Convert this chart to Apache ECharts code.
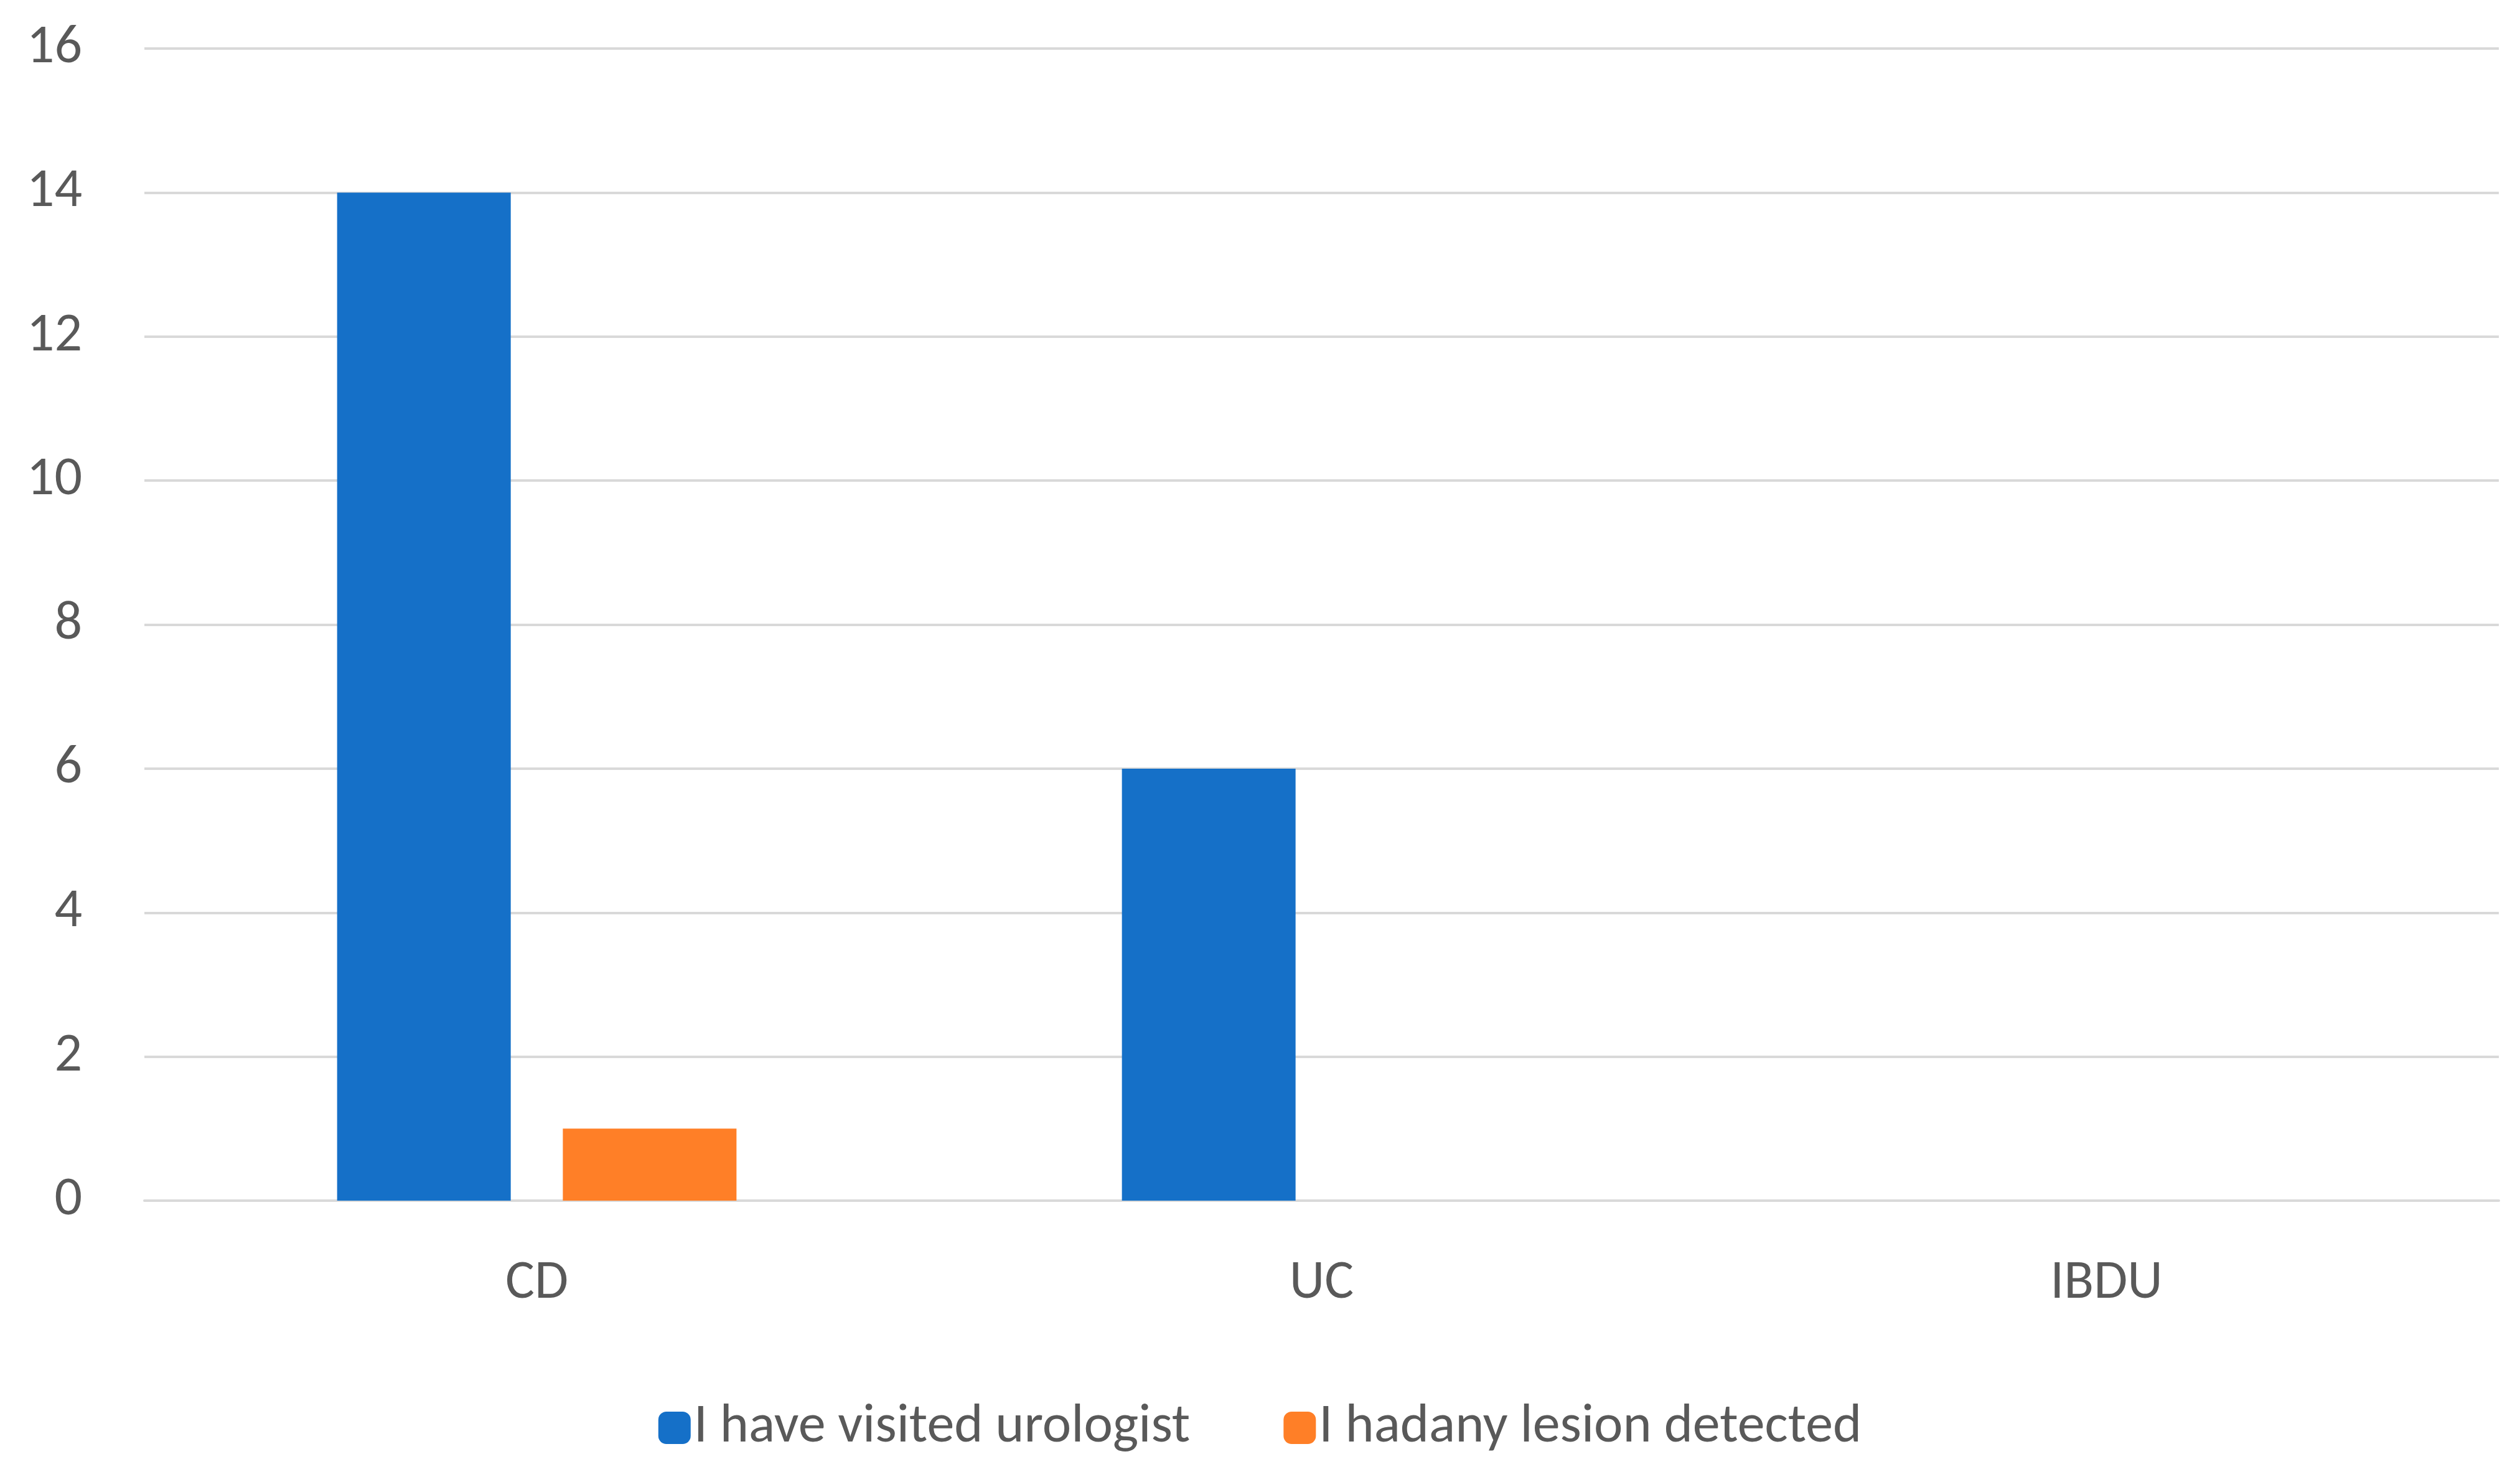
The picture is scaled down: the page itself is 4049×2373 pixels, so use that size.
<!DOCTYPE html>
<html><head><meta charset="utf-8">
<script src="https://cdn.jsdelivr.net/npm/echarts@6/dist/echarts.min.js"></script>
<style>html,body{margin:0;padding:0;background:#fff}#c{width:4049px;height:2373px}</style>
</head><body><div id="c"></div>
<script>
const categories = ['CD', 'UC', 'IBDU'];
const visited = [14, 6, 0];
const lesion = [1, 0, 0];
const seriesNames = ['I have visited urologist', 'I hadany lesion detected'];
const chart = echarts.init(document.getElementById('c'));
const font = 'Calibri, Carlito, "Open Sans", sans-serif';
chart.setOption({
  animation: false,
  backgroundColor: '#fff',
  grid: {left: 232, right: 34, top: 78, bottom: 444},
  legend: {
    bottom: 30, itemWidth: 52, itemHeight: 52, itemGap: 150,
    textStyle: {fontSize: 88, color: '#595959', fontFamily: font},
    data: seriesNames
  },
  xAxis: {
    type: 'category', data: categories,
    axisTick: {show: false},
    axisLine: {lineStyle: {color: '#d9d9d9', width: 4}},
    axisLabel: {fontSize: 88, color: '#595959', margin: 90, fontFamily: font}
  },
  yAxis: {
    type: 'value', min: 0, max: 16, interval: 2,
    axisLabel: {fontSize: 88, color: '#595959', margin: 100, fontFamily: font},
    splitLine: {lineStyle: {color: '#d9d9d9', width: 4}}
  },
  series: [
    {name: seriesNames[0], type: 'bar', data: visited, barWidth: 279, barGap: '30%', itemStyle: {color: '#1570c8'}},
    {name: seriesNames[1], type: 'bar', data: lesion, barWidth: 279, itemStyle: {color: '#ff7f27'}}
  ]
});
</script></body></html>
